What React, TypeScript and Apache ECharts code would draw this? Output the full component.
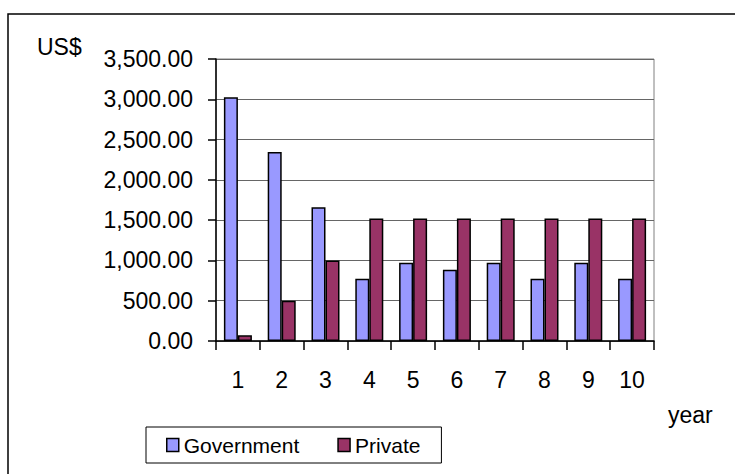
import React, { useEffect, useRef } from "react";
import * as echarts from "echarts";

const categories = ["1", "2", "3", "4", "5", "6", "7", "8", "9", "10"];
const governmentValues = [3025, 2345, 1659, 772, 970, 883, 970, 772, 970, 772];
const privateValues = [70, 500, 1000, 1520, 1520, 1520, 1520, 1520, 1520, 1520];
const seriesNames = ["Government", "Private"];
const yTicks = { min: 0, max: 3500, interval: 500 };
const yUnitLabel = "US$";
const xUnitLabel = "year";

const FONT = "'Liberation Sans', Arial, sans-serif";

export default function App() {
  const ref = useRef<HTMLDivElement>(null);

  useEffect(() => {
    if (!ref.current) return;
    const chart = echarts.init(ref.current, null, { renderer: "svg" });
    const option = {
      animation: false,
      backgroundColor: "#ffffff",
      textStyle: { fontFamily: FONT, color: "#000" },
      grid: {
        left: 216,
        top: 59,
        right: 81,
        bottom: 133,
        show: true,
        borderColor: "#808080",
        borderWidth: 1,
        backgroundColor: "#ffffff",
      },
      legend: {
        data: seriesNames,
        left: 146,
        top: 427,
        orient: "horizontal",
        padding: [6, 21, 6, 20],
        itemGap: 38,
        itemWidth: 12,
        itemHeight: 13,
        icon: "rect",
        borderColor: "#000",
        borderWidth: 1,
        backgroundColor: "#fff",
        textStyle: { fontFamily: FONT, fontSize: 21, color: "#000", lineHeight: 24 },
        itemStyle: { borderColor: "#000", borderWidth: 1.5 },
      },
      xAxis: {
        type: "category",
        data: categories,
        axisLine: { show: true, lineStyle: { color: "#000", width: 1.5 } },
        axisTick: { show: true, length: 9, alignWithLabel: false, lineStyle: { color: "#000", width: 1.5 } },
        axisLabel: {
          fontFamily: FONT,
          fontSize: 23,
          color: "#000",
          margin: 39,
          verticalAlign: "middle",
          interval: 0,
        },
        splitLine: { show: false },
      },
      yAxis: {
        type: "value",
        min: yTicks.min,
        max: yTicks.max,
        interval: yTicks.interval,
        axisLine: { show: true, lineStyle: { color: "#000", width: 1.5 } },
        axisTick: { show: true, length: 8, lineStyle: { color: "#000", width: 1.5 } },
        axisLabel: {
          fontFamily: FONT,
          fontSize: 23,
          color: "#000",
          margin: 23,
          formatter: (v: number) =>
            v.toLocaleString("en-US", { minimumFractionDigits: 2, maximumFractionDigits: 2 }),
        },
        splitLine: { show: true, lineStyle: { color: "#666", width: 1.2 } },
      },
      series: [
        {
          name: seriesNames[0],
          type: "bar",
          data: governmentValues,
          barWidth: 14,
          barGap: "0%",
          itemStyle: { color: "#9999FF", borderColor: "#000", borderWidth: 1.5 },
        },
        {
          name: seriesNames[1],
          type: "bar",
          data: privateValues,
          barWidth: 14,
          barGap: "0%",
          itemStyle: { color: "#993366", borderColor: "#000", borderWidth: 1.5 },
        },
      ],
      graphic: [
        {
          type: "rect",
          silent: true,
          z: 100,
          shape: { x: 8, y: 14, width: 780, height: 520 },
          style: { fill: "none", stroke: "#000", lineWidth: 1.5 },
        },
        {
          type: "text",
          x: 37,
          y: 47,
          style: {
            text: yUnitLabel,
            font: `23px ${FONT}`,
            fill: "#000",
            textAlign: "left",
            textVerticalAlign: "middle",
          },
        },
        {
          type: "text",
          x: 668,
          y: 415,
          style: {
            text: xUnitLabel,
            font: `23px ${FONT}`,
            fill: "#000",
            textAlign: "left",
            textVerticalAlign: "middle",
          },
        },
      ],
    };
    chart.setOption(option as any);
    return () => chart.dispose();
  }, []);

  return (
    <div
      ref={ref}
      style={{ position: "absolute", left: 0, top: 0, width: 735, height: 474 }}
    />
  );
}
